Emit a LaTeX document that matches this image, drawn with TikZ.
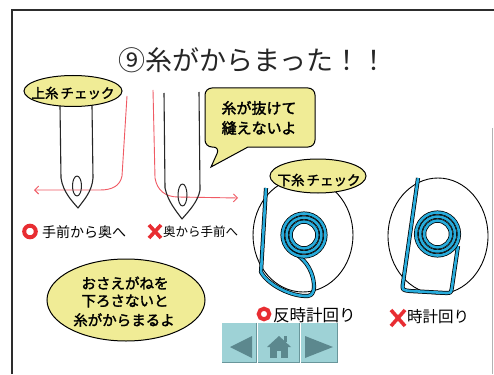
\documentclass[tikz,border=0pt]{standalone}
\usepackage{fontspec}
\newfontfamily\jp{Noto Sans CJK JP}
\newfontfamily\jpb[FakeBold=2]{Noto Sans CJK JP}
\usetikzlibrary{arrows.meta}
\definecolor{bubblefill}{RGB}{240,236,150}
\definecolor{markred}{RGB}{232,45,50}
\definecolor{threadred}{RGB}{240,90,100}
\definecolor{threadblue}{RGB}{40,172,220}
\definecolor{btnfill}{RGB}{158,210,214}
\definecolor{btnedge}{RGB}{105,150,155}
\definecolor{btnicon}{RGB}{92,136,142}
\definecolor{framegray}{RGB}{45,45,45}
\begin{document}
\begin{tikzpicture}[x=1pt,y=-1pt,
  frameline/.style={draw=framegray, line width=1.4pt},
  bubble/.style={draw=black, fill=bubblefill, line width=1pt},
  btext/.style={font=\jpb\fontsize{13.5}{13.5}\selectfont, inner sep=0pt},
  bigbtext/.style={font=\jpb\fontsize{14.5}{14.5}\selectfont, inner sep=0pt},
  label/.style={font=\jp\fontsize{#1}{#1}\selectfont, inner sep=0pt, anchor=west},
  needle/.style={draw=black!85, line width=1.1pt, line join=round},
  redthread/.style={draw=threadred, line width=0.9pt, -{Straight Barb[length=4pt,width=8pt]}},
  spool/.style={draw=black, line width=0.9pt},
  bluethread/.style={draw=black, line width=0.75pt, double=threadblue, double distance=2.6pt, line join=round},
  okmark/.style={draw=markred, line width=4pt},
  ngmark/.style={draw=markred, line width=3.6pt},
  navbtn/.style={fill=btnfill, draw=none, inner sep=0pt},
  navicon/.style={fill=btnicon, draw=none}]
\useasboundingbox (0,0) rectangle (494,374);
\fill[white] (0,0) rectangle (494,374);

% page frame
\draw[frameline] (12,374) -- (12,10) -- (494,10);
\draw[black!30, line width=0.8pt] (492,128) -- (492,374);

% title
\node[font=\jp\fontsize{27}{27}\selectfont, text=black!85, inner sep=0pt] (title) at (253,60) {⑨糸がからまった！！};

% upper thread: front to back
\draw[redthread] (127,96) -- (122,176) .. controls (120,186) and (112,190) .. (100,190) -- (34,190);
\draw[needle] (60,106) -- (61,178) .. controls (63,192) and (72,201) .. (78,208)
              .. controls (83,201) and (92,192) .. (93,178) -- (92,106);
\draw[needle, line width=1pt] (77,186) ellipse [x radius=4.5, y radius=10];

% upper thread: back to front
\draw[redthread] (153,90) -- (155,178) .. controls (157,190) and (165,197) .. (178,197) -- (238,198);
\draw[needle] (164,93) -- (165,188) .. controls (168,202) and (177,212) .. (182,219)
              .. controls (188,212) and (198,202) .. (200,190) -- (199,92);
\draw[needle, line width=1pt] (182.5,195) ellipse [x radius=4.5, y radius=11];

% bubble: upper thread check
\draw[bubble] (73,91) ellipse [x radius=49, y radius=15.5];
\node[btext] (upchk) at (73,93) {上糸\hspace{2pt}チェック};

% speech bubble
\draw[bubble] (248,147) [rounded corners=7pt] -- (315,147) -- (315,88) -- (205,88) -- (205,147) -- (220,147) [sharp corners] -- (211,167) -- cycle;
\node[btext, font=\jpb\fontsize{15}{15}\selectfont] (nuke1) at (259,108) {糸が抜けて};
\node[btext, font=\jpb\fontsize{15}{15}\selectfont] (nuke2) at (259,128) {縫えないよ};

% labels under needles
\draw[okmark] (30,231.5) circle [radius=5.8];
\node[label=14] (lab1) at (42,232) {手前から奥へ};
\draw[ngmark] (149,225) -- (161,238) (161,225) -- (149,238);
\node[label=12.5] (lab2) at (163,232) {奥から手前へ};

% bobbin: counterclockwise
\draw[spool] (303,235) ellipse [x radius=50, y radius=57];
\draw[bluethread] (266,188) -- (261,272) .. controls (268,285) and (292,297) .. (308,296)
   .. controls (316,295) and (315,282) .. (311,272) .. controls (306,260) and (297,254) .. (290,251);
\foreach \r in {21.5,17.4,13.3}
  \draw[bluethread] (304,235) circle [radius=\r];

% bubble: lower thread check
\draw[bubble] (318,176) ellipse [x radius=48, y radius=17];
\node[btext] (lochk) at (319,180) {下糸\hspace{2pt}チェック};

% bobbin: clockwise
\draw[spool] (438,236) ellipse [x radius=50, y radius=58];
\draw[bluethread] (418,178) -- (403,283) .. controls (402,290) .. (410,291) -- (446,293)
   .. controls (451,293) .. (452,287) -- (458,246);
\foreach \r in {21.5,17.4,13.3}
  \draw[bluethread] (437.5,234) circle [radius=\r];

% labels under bobbins
\draw[okmark] (264,314) circle [radius=5.3];
\node[label=16.5] (lab3) at (273,315) {反時計回り};
\draw[ngmark] (391,310) -- (405,326) (405,310) -- (391,326);
\node[label=15.5] (lab4) at (407,317) {時計回り};

% bubble: presser foot
\draw[bubble] (126,300) ellipse [x radius=79, y radius=41];
\node[bigbtext] (foot1) at (125,283) {おさえがねを};
\node[bigbtext] (foot2) at (125,301) {下ろさないと};
\node[bigbtext] (foot3) at (124,320) {糸がからまるよ};

% navigation buttons
\node[navbtn, minimum width=34pt, minimum height=39pt] (prev) at (239,342.5) {};
\node[navbtn, minimum width=41pt, minimum height=39pt] (home) at (278.5,342.5) {};
\node[navbtn, minimum width=36pt, minimum height=39pt] (next) at (319,342.5) {};
\draw[btnedge, line width=1.2pt] (prev.north east) -- (prev.south east) -- (prev.south west);
\draw[btnedge, line width=1.2pt] (home.north east) -- (home.south east) -- (home.south west);
\draw[btnedge, line width=1.2pt] (next.north east) -- (next.south east) -- (next.south west);
\fill[navicon] (230,347) -- (252,336) -- (252,358) -- cycle;
\fill[navicon] (267,347) -- (279,336) -- (291,347) -- cycle;
\fill[navicon] (284,336) rectangle (287,342);
\fill[navicon] (270,347) rectangle (288,358);
\fill[btnfill] (277,351) rectangle (281,358);
\fill[navicon] (305,336) -- (333,347) -- (305,358) -- cycle;
\end{tikzpicture}
\end{document}
